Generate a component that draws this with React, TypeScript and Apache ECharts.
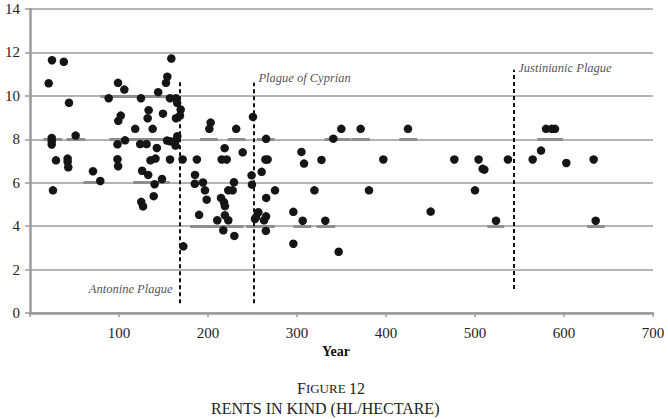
import React, { useEffect, useRef } from "react";
import * as echarts from "echarts";

const pointYears = [
  21, 24.7, 38, 43.8, 24.4, 24.4, 24.4, 51.3, 29.2, 42.3, 42.3, 43, 25.8, 70.8, 79, 88.4,
  98.9, 106, 152.8, 154.3, 158.8, 144, 124.7, 157.3, 164, 165.3, 102, 99.2, 133.3, 132.2,
  149.4, 169.3, 168.5, 164, 118.2, 137.8, 106.8, 98.3, 123.8, 131, 154, 157.3, 163, 165.5,
  163.5, 142.5, 98.3, 99, 135.4, 141, 157.3, 171.5, 126, 132.8, 140, 148.3, 125, 127, 139,
  172.3, 187.5, 185.4, 185.2, 194.3, 196.6, 198.5, 190, 203, 201.5, 231.7, 250.5, 265.3,
  218.7, 239, 215.4, 221, 264.5, 267, 229.2, 222.8, 227.7, 249, 249.4, 260.3, 275.3, 265.4,
  214.6, 218, 219, 210.4, 219, 222.8, 217.2, 229.6, 256.5, 254, 252.8, 265.2, 263, 265,
  295.9, 306.4, 295.9, 305, 307.9, 327.5, 319.6, 349.8, 371.5, 424.7, 340.8, 397, 476.8,
  504, 508.6, 510.5, 380.9, 500, 450.2, 331.8, 346.8, 579.8, 586.2, 589.9, 574.2, 537,
  564.8, 602.6, 633.3, 523.6, 635.6,
];
const pointValues = [
  10.58, 11.64, 11.57, 9.68, 8.06, 7.91, 7.76, 8.17, 7.03, 7.11, 6.96, 6.71, 5.65, 6.53, 6.08, 9.89,
  10.6, 10.29, 10.6, 10.88, 11.72, 10.17, 9.89, 9.89, 9.89, 9.68, 9.09, 8.85, 9.34, 8.97,
  9.18, 9.37, 9.09, 8.97, 8.48, 8.48, 7.95, 7.77, 7.78, 7.78, 7.94, 7.91, 7.91, 8.14,
  7.71, 7.6, 7.08, 6.76, 7.03, 7.11, 7.07, 7.07, 6.55, 6.36, 5.93, 6.17, 5.12, 4.91, 5.38,
  3.07, 7.07, 6.36, 5.95, 6.01, 5.65, 5.22, 4.52, 8.77, 8.48, 8.48, 9.03, 8.02,
  7.59, 7.4, 7.07, 7.07, 7.07, 7.07, 6.02, 5.65, 5.65, 6.34, 5.91, 6.5, 5.65, 5.3,
  5.3, 5.1, 4.92, 4.27, 4.5, 4.27, 3.81, 3.55, 4.64, 4.42, 4.33, 4.45, 4.27, 3.78,
  4.66, 4.25, 3.19, 7.42, 6.88, 7.05, 5.65, 8.48, 8.48, 8.48, 8.03, 7.07, 7.07,
  7.07, 6.64, 6.6, 5.65, 5.65, 4.67, 4.25, 2.82, 8.48, 8.48, 8.48, 7.48, 7.07,
  7.07, 6.91, 7.07, 4.25, 4.25,
];

// date ranges drawn as darker bars on the grid lines
const rangeStart = [79, 15, 41, 89, 191, 222, 255, 331, 361, 415, 570, 60, 116, 180, 243, 296, 322, 514, 626];
const rangeEnd = [166, 36, 62, 166, 211, 242, 275, 360, 382, 435, 599, 79, 157, 240, 275, 316, 343, 533, 646];
const rangeValue = [10, 8, 8, 8, 8, 8, 8, 8, 8, 8, 8, 6, 6, 4, 4, 4, 4, 4, 4];

const plagueNames = ["Antonine Plague", "Plague of Cyprian", "Justinianic Plague"];
const plagueYears = [168, 251, 543];
const plagueTop = [10.65, 10.6, 11.2];
const plagueBottom = [0.45, 0.45, 1.1];
const plagueLabelY = [1.1, 10.8, 11.3];
const plagueLabelSide = ["left", "right", "right"];

const xTicks = { min: 0, max: 700, interval: 100 };
const yTicks = { min: 0, max: 14, interval: 2 };

const SERIF = "Liberation Serif";

export default function App() {
  const ref = useRef<HTMLDivElement>(null);
  useEffect(() => {
    if (!ref.current) return;
    const chart = echarts.init(ref.current, undefined, { renderer: "svg" });
    const points = pointYears.map((y, i) => [y, pointValues[i]]);
    const ranges = rangeStart.map((s, i) => ({
      coords: [
        [s, rangeValue[i]],
        [rangeEnd[i], rangeValue[i]],
      ],
    }));
    const plagueLines = plagueYears.map((y, i) => ({
      coords: [
        [y, plagueBottom[i]],
        [y, plagueTop[i]],
      ],
    }));
    const plagueLabels = plagueYears.map((y, i) => ({
      value: [y, plagueLabelY[i]],
      label: {
        show: true,
        formatter: "{i|" + plagueNames[i] + "}",
        position: plagueLabelSide[i],
        distance: plagueLabelSide[i] === "left" ? 7 : 5,
        rich: {
          i: {
            fontFamily: SERIF,
            fontStyle: "italic",
            fontSize: 12.5,
            color: "#222",
          },
        },
      },
    }));
    const tickRich = {
      t: { fontFamily: SERIF, fontSize: 15, color: "#222" },
    };
    chart.setOption({
      animation: false,
      backgroundColor: "#ffffff",
      textStyle: { fontFamily: SERIF },
      grid: { left: 30, right: 15, top: 9, bottom: 106, containLabel: false },
      xAxis: {
        type: "value",
        min: xTicks.min,
        max: xTicks.max,
        interval: xTicks.interval,
        axisLine: { show: true, lineStyle: { color: "#9a9a9a", width: 2.5 } },
        axisTick: { show: true, length: 4, lineStyle: { color: "#9a9a9a", width: 1.5 } },
        splitLine: { show: false },
        axisLabel: {
          color: "#222",
          fontFamily: SERIF,
          fontSize: 15,
          margin: 12,
          rich: tickRich,
          formatter: (v: number) => (v === 0 ? "" : "{t|" + v + "}"),
        },
      },
      yAxis: {
        type: "value",
        min: yTicks.min,
        max: yTicks.max,
        interval: yTicks.interval,
        axisLine: { show: true, lineStyle: { color: "#9a9a9a", width: 2.5 } },
        axisTick: { show: true, length: 5, lineStyle: { color: "#9a9a9a", width: 1.5 } },
        splitLine: { show: true, lineStyle: { color: "#b4b4b4", width: 1.8 } },
        axisLabel: {
          color: "#222",
          fontFamily: SERIF,
          fontSize: 15,
          margin: 10,
          rich: tickRich,
          formatter: (v: number) => "{t|" + v + "}",
        },
      },
      graphic: [
        {
          type: "text",
          left: 322,
          top: 344,
          style: { text: "Year", font: `bold 14px ${SERIF}`, fill: "#111" },
        },
        {
          type: "text",
          left: 297,
          top: 380,
          style: {
            text: "{b|F}{s|IGURE} {b|12}",
            rich: {
              b: { font: `16px ${SERIF}`, fill: "#222" },
              s: { font: `13px ${SERIF}`, fill: "#222" },
            },
          },
        },
        {
          type: "text",
          left: 211,
          top: 400,
          style: { text: "RENTS IN KIND (HL/HECTARE)", font: `16px ${SERIF}`, fill: "#222" },
        },
      ],
      series: [
        {
          type: "lines",
          coordinateSystem: "cartesian2d",
          silent: true,
          z: 1,
          lineStyle: { color: "#8e8e8e", width: 3, opacity: 1 },
          data: ranges,
        },
        {
          type: "lines",
          coordinateSystem: "cartesian2d",
          silent: true,
          z: 2,
          lineStyle: { color: "#111", width: 2, type: [4, 3], opacity: 1 },
          data: plagueLines,
        },
        {
          type: "scatter",
          z: 3,
          symbol: "circle",
          symbolSize: 8.5,
          itemStyle: { color: "#151515", opacity: 1 },
          data: points,
        },
        {
          type: "scatter",
          z: 4,
          symbolSize: 0,
          silent: true,
          data: plagueLabels,
        },
      ],
    });
    return () => chart.dispose();
  }, []);
  return (
    <div
      ref={ref}
      style={{ position: "absolute", left: 0, top: 0, width: 668, height: 419 }}
    />
  );
}
